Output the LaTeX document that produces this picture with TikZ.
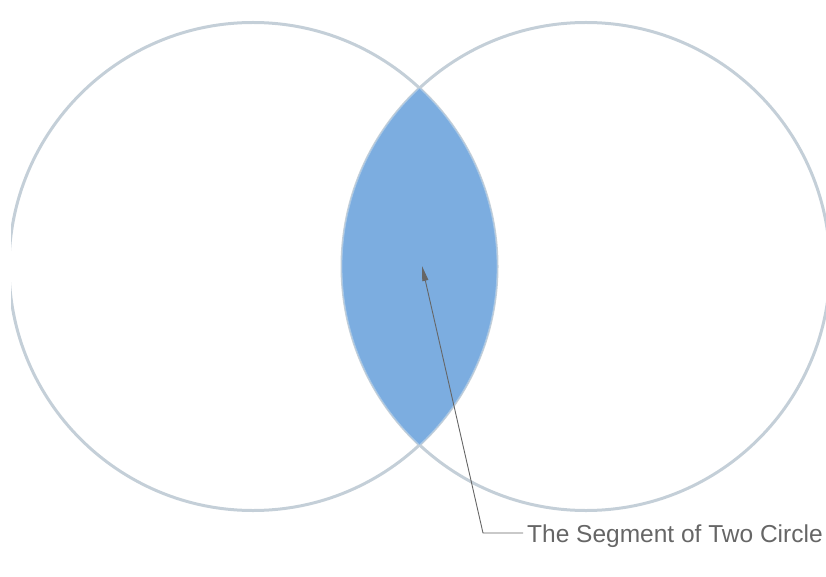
\documentclass[tikz,border=0pt]{standalone}
\usepackage{fontspec}
\setmainfont{Liberation Sans}
\usetikzlibrary{arrows.meta}
\definecolor{ring}{HTML}{C4CFD8}
\definecolor{lens}{HTML}{7CADE0}
\definecolor{lensedge}{HTML}{A6C6E6}
\definecolor{ink}{HTML}{666666}
\begin{document}
\begin{tikzpicture}[x=1pt,y=-1pt,
  ringline/.style={draw=ring,line width=3pt},
  pointer/.style={draw=ink,line width=0.9pt},
  labeltext/.style={text=ink,font=\fontsize{24.5}{28}\selectfont,inner xsep=4pt,inner ysep=0pt}]
\useasboundingbox (0,0) rectangle (826,577);
\clip (11,0) rectangle (826,577);
\coordinate (cl) at (253,266.5);
\coordinate (cr) at (586,266.5);
\draw[ringline] (cl) circle (244pt);
\draw[ringline] (cr) circle (244pt);
\begin{scope}
  \clip (cl) circle (244pt);
  \fill[lens] (cr) circle (244pt);
\end{scope}
\begin{scope}
  \clip (cl) circle (244pt);
  \draw[lensedge,line width=0.8pt] (cr) circle (244pt);
\end{scope}
\begin{scope}
  \clip (cr) circle (244pt);
  \draw[lensedge,line width=0.8pt] (cl) circle (244pt);
\end{scope}
\coordinate (tip) at (422,266);
\coordinate (elbow) at (483,533);
\node[labeltext,anchor=base west] (lbl) at (523,542) {The Segment of Two Circle};
\draw[pointer,-{Triangle[length=15pt,width=6pt]}] (elbow -| lbl.west) -- (elbow) -- (tip);
\end{tikzpicture}
\end{document}
